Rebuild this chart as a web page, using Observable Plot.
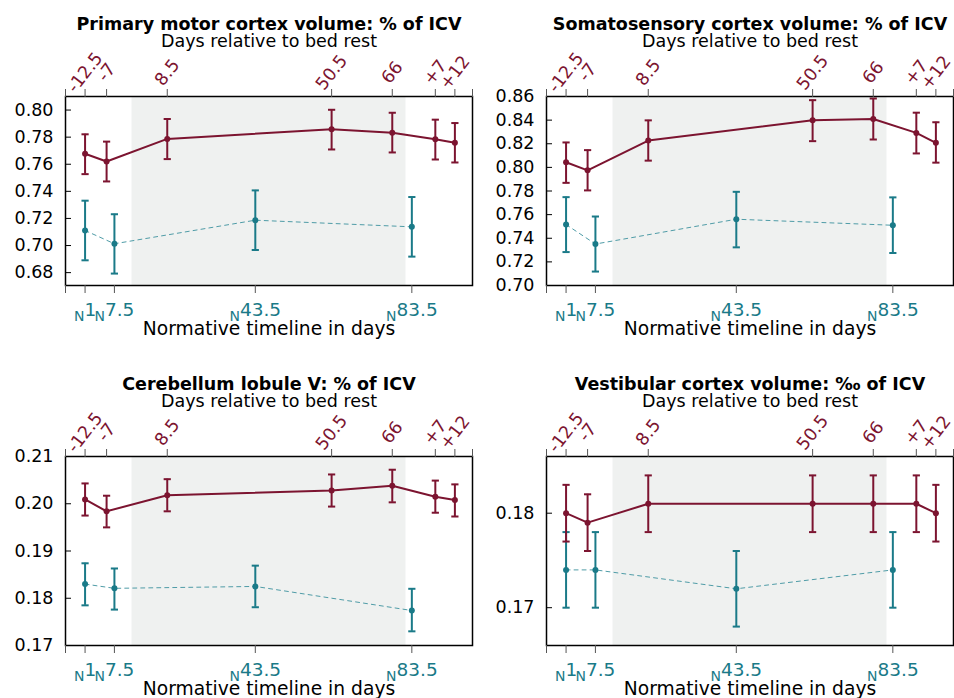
<!DOCTYPE html>
<html><head><meta charset="utf-8">
<script src="https://cdn.jsdelivr.net/npm/d3@7"></script>
<script src="https://cdn.jsdelivr.net/npm/@observablehq/plot@0.6"></script>
<style>
html,body{margin:0;padding:0;background:#fff;overflow:hidden;width:954px;height:698px;}
#grid{position:relative;width:954px;height:698px;overflow:hidden;}
.panel{position:absolute;width:477px;height:360px;}
.panel svg{font-family:"DejaVu Sans",Verdana,sans-serif;overflow:visible;max-width:none !important;}
</style></head><body><div id="grid"></div>
<script>
// Timeline (days relative to bed rest; bed rest lasts 70 days, post days are +7 and +12)
const bedDays = [-12.5, -7, 8.5, 50.5, 66, 77, 82];
const bedLabels = ["-12.5", "-7", "8.5", "50.5", "66", "+7", "+12"];
// Normative sessions, placed on the same timeline
const normPos = [-12.5, -5, 31, 71];
const normLabels = ["1", "7.5", "43.5", "83.5"];
const bedRestPeriod = [-0.5, 69.5];
const xDomain = [-17.5, 86.5];

const titles = [
  "Primary motor cortex volume: % of ICV",
  "Somatosensory cortex volume: % of ICV",
  "Cerebellum lobule V: % of ICV",
  "Vestibular cortex volume: \u2030 of ICV"
];

// Primary motor cortex
const motorBed   = [0.7677, 0.7620, 0.7787, 0.7858, 0.7833, 0.7784, 0.7758];
const motorBedLo = [0.7527, 0.7473, 0.7638, 0.7709, 0.7687, 0.7635, 0.7613];
const motorBedHi = [0.7821, 0.7767, 0.7934, 0.8002, 0.7980, 0.7929, 0.7904];
const motorNorm   = [0.7111, 0.7013, 0.7187, 0.7138];
const motorNormLo = [0.6891, 0.6793, 0.6967, 0.6918];
const motorNormHi = [0.7331, 0.7231, 0.7407, 0.7358];
const motorDomain = [0.6705, 0.810];
const motorTicks = [0.68, 0.70, 0.72, 0.74, 0.76, 0.78, 0.80];

// Somatosensory cortex
const somaBed   = [0.8043, 0.7975, 0.8227, 0.8398, 0.8410, 0.8292, 0.8208];
const somaBedLo = [0.7869, 0.7805, 0.8057, 0.8222, 0.8236, 0.8118, 0.8040];
const somaBedHi = [0.8211, 0.8146, 0.8398, 0.8569, 0.8583, 0.8463, 0.8382];
const somaNorm   = [0.7516, 0.7351, 0.7561, 0.7510];
const somaNormLo = [0.7283, 0.7118, 0.7323, 0.7275];
const somaNormHi = [0.7748, 0.7584, 0.7793, 0.7746];
const somaDomain = [0.70, 0.86];
const somaTicks = [0.70, 0.72, 0.74, 0.76, 0.78, 0.80, 0.82, 0.84, 0.86];

// Cerebellum lobule V
const cereBed   = [0.2009, 0.1984, 0.2018, 0.2028, 0.2038, 0.2015, 0.2008];
const cereBedLo = [0.1975, 0.1950, 0.1984, 0.1994, 0.2003, 0.1981, 0.1973];
const cereBedHi = [0.2043, 0.2017, 0.2052, 0.2062, 0.2072, 0.2049, 0.2041];
const cereNorm   = [0.1830, 0.1821, 0.1825, 0.1774];
const cereNormLo = [0.1785, 0.1776, 0.1781, 0.1730];
const cereNormHi = [0.1874, 0.1863, 0.1869, 0.1820];
const cereDomain = [0.17, 0.21];
const cereTicks = [0.17, 0.18, 0.19, 0.20, 0.21];

// Vestibular cortex
const vestBed   = [0.180, 0.179, 0.181, 0.181, 0.181, 0.181, 0.180];
const vestBedLo = [0.177, 0.176, 0.178, 0.178, 0.178, 0.178, 0.177];
const vestBedHi = [0.183, 0.182, 0.184, 0.184, 0.184, 0.184, 0.183];
const vestNorm   = [0.174, 0.174, 0.172, 0.174];
const vestNormLo = [0.170, 0.170, 0.168, 0.170];
const vestNormHi = [0.178, 0.178, 0.176, 0.178];
const vestDomain = [0.166, 0.186];
const vestTicks = [0.17, 0.18];

const maroon = "#7c1430";
const teal = "#1a7a88";
const tealLight = "#4f9ca7";
const shade = "#eff1f0";
const tickGrey = "#555";

const capSymbol = {
  draw(ctx, size) {
    const w = Math.sqrt(size / Math.PI);
    ctx.moveTo(-w, 0);
    ctx.lineTo(w, 0);
  }
};

function rows(xs, m, lo, hi) {
  return xs.map((x, i) => ({x, y: m[i], lo: lo[i], hi: hi[i]}));
}

function series(data, color, lineOpts) {
  return [
    Plot.ruleX(data, {x: "x", y1: "lo", y2: "hi", stroke: color, strokeWidth: 2}),
    Plot.dot(data, {x: "x", y: "lo", symbol: capSymbol, r: 3.6, stroke: color, strokeWidth: 2, fill: "none"}),
    Plot.dot(data, {x: "x", y: "hi", symbol: capSymbol, r: 3.6, stroke: color, strokeWidth: 2, fill: "none"}),
    Plot.line(data, {x: "x", y: "y", ...lineOpts}),
    Plot.dot(data, {x: "x", y: "y", r: 3, fill: color, stroke: "none"})
  ];
}

function panel(title, bed, norm, domain, ticks) {
  const svg = Plot.plot({
    width: 477,
    height: 360,
    marginLeft: 65,
    marginRight: 5,
    marginTop: 96,
    marginBottom: 75,
    style: {fontFamily: "DejaVu Sans, Verdana, sans-serif", background: "white", overflow: "visible", maxWidth: "none"},
    x: {domain: xDomain, axis: null},
    y: {domain, axis: null},
    marks: [
      Plot.rect([bedRestPeriod], {x1: d => d[0], x2: d => d[1], fill: shade}),
      ...series(norm, teal, {stroke: tealLight, strokeWidth: 1, strokeDasharray: "4,4"}),
      ...series(bed, maroon, {stroke: maroon, strokeWidth: 2}),
      Plot.frame({stroke: "black", strokeWidth: 1.5}),
      Plot.axisY({ticks, tickFormat: d3.format(".2f"), tickSize: 6, dx: 6, tickPadding: 12,
        stroke: "black", fill: "black", fontSize: 17.5, label: null}),
      Plot.axisX({anchor: "top", ticks: bedDays, tickFormat: d => bedLabels[bedDays.indexOf(d)],
        tickRotate: -52, textAnchor: "middle", lineAnchor: "middle", tickSize: 8, tickPadding: 16,
        stroke: tickGrey, fill: maroon, fontSize: 17.5, label: null}),
      Plot.axisX({anchor: "top", ticks: xDomain, tickFormat: () => "", tickSize: 8, stroke: tickGrey, label: null}),
      Plot.axisX({anchor: "bottom", ticks: [xDomain[0], ...normPos],
        tickFormat: d => d === xDomain[0] ? "" : "N" + normLabels[normPos.indexOf(d)],
        tickSize: 8, tickPadding: 9, stroke: tickGrey, fill: teal, fontSize: 18.5, label: null}),
      Plot.text([title], {frameAnchor: "top", dy: -79, text: d => d, fontWeight: "bold", fontSize: 17.5, fill: "black"}),
      Plot.text(["Days relative to bed rest"], {frameAnchor: "top", dy: -62, text: d => d, fontSize: 17.5, fill: "black"}),
      Plot.text(["Normative timeline in days"], {frameAnchor: "bottom", dy: 49, text: d => d, fontSize: 18.7, fill: "black"})
    ]
  });
  // subscript "N" prefix on normative tick labels
  d3.select(svg).selectAll("text").each(function () {
    const m = /^N([\d.]+)$/.exec(this.textContent);
    if (!m) return;
    const t = d3.select(this);
    t.text("");
    t.append("tspan").attr("font-size", 14).attr("dy", 5).text("N");
    t.append("tspan").attr("dy", -5).text(m[1]);
  });
  return svg;
}

const configs = [
  [titles[0], rows(bedDays, motorBed, motorBedLo, motorBedHi), rows(normPos, motorNorm, motorNormLo, motorNormHi), motorDomain, motorTicks],
  [titles[1], rows(bedDays, somaBed, somaBedLo, somaBedHi), rows(normPos, somaNorm, somaNormLo, somaNormHi), somaDomain, somaTicks],
  [titles[2], rows(bedDays, cereBed, cereBedLo, cereBedHi), rows(normPos, cereNorm, cereNormLo, cereNormHi), cereDomain, cereTicks],
  [titles[3], rows(bedDays, vestBed, vestBedLo, vestBedHi), rows(normPos, vestNorm, vestNormLo, vestNormHi), vestDomain, vestTicks]
];

const grid = document.getElementById("grid");
configs.forEach((c, i) => {
  const div = document.createElement("div");
  div.className = "panel";
  div.style.left = (i % 2) * 481 + "px";
  div.style.top = Math.floor(i / 2) * 360 + "px";
  div.appendChild(panel(...c));
  grid.appendChild(div);
});
</script>
</body></html>
